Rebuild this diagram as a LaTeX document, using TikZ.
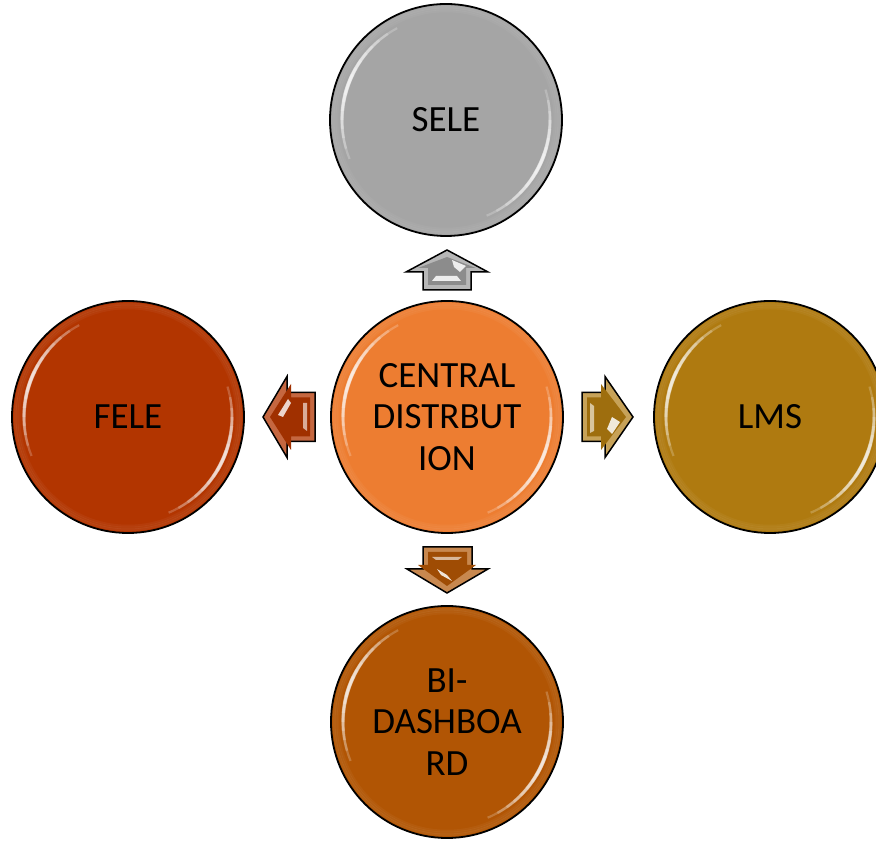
\documentclass[tikz,border=0pt]{standalone}
\usepackage{fontspec}
\setmainfont{Carlito}
\usetikzlibrary{calc}
\begin{document}
\begin{tikzpicture}[x=1pt,y=1pt,
  circ/.style={circle,draw=black,line width=1.8pt,minimum size=232pt,inner sep=0pt,
    align=center,text=black,font=\fontsize{37}{41.5}\selectfont},
  gloss/.style={white,line cap=butt},
  arrowbox/.style={draw=black,line width=1.5pt,line join=miter}]
\definecolor{cgray}{HTML}{A5A5A5}
\definecolor{corange}{HTML}{ED7D31}
\definecolor{cfele}{HTML}{B23500}
\definecolor{clms}{HTML}{AF7A10}
\definecolor{cbi}{HTML}{B15504}
\useasboundingbox (0,0) rectangle (876,843);

\node[circ,fill=cgray] (sele) at (446,723) {SELE};
\node[circ,fill=corange] (cent) at (447,426) {CENTRAL\\DISTRBUT\\ION};
\node[circ,fill=cfele] (fele) at (128,426) {FELE};
\node[circ,fill=clms] (lms) at (770,426) {LMS};
\node[circ,fill=cbi] (bi) at (447,121) {BI-\\DASHBOA\\RD};

% glossy highlights
\foreach \n in {sele,cent,fele,lms,bi}{
  \foreach \r/\o in {113/0.06,111/0.05,109/0.04}{
    \draw[white,opacity=\o,line width=2.5pt] (\n.center) circle[radius=\r];
  }
  \foreach \c in {160,-25}{
    \foreach \h/\w in {42/2.2,36/2.6,30/3,25/3.2,20/3.4,15/3.6,10/3.8,6/4}{
      \draw[gloss,opacity=0.21,line width=\w pt] ($(\n.center)+(\c-\h:104)$) arc[start angle=\c-\h,end angle=\c+\h,radius=104];
    }
  }
}

% block arrows
% up (to SELE)
\draw[arrowbox,fill=cgray!80!white] (447,593) -- (488,571) -- (471,571) -- (471,553) -- (423,553) -- (423,571) -- (406,571) -- cycle;
\fill[cgray!85!black] (447,586) -- (476,575) -- (466,575) -- (466,558) -- (428,558) -- (428,575) -- (418,575) -- cycle;
\fill[white,opacity=0.85] (432,562) -- (461,562) -- (457,567) -- (436,567) -- cycle;
\fill[white,opacity=0.85] (452,583) -- (466,577) -- (460,571) -- (454,576) -- cycle;

% left (to FELE)
\draw[arrowbox,fill=cfele!75!white] (263,426) -- (287,466.5) -- (287,450.5) -- (315,450.5) -- (315,401.5) -- (287,401.5) -- (287,385.5) -- cycle;
\fill[cfele!90!black] (270,426) -- (291,459) -- (291,445.5) -- (310,445.5) -- (310,406.5) -- (291,406.5) -- (291,393) -- cycle;
\fill[white,opacity=0.8] (278,428) -- (288,444) -- (291,440) -- (283,426) -- cycle;
\fill[white,opacity=0.6] (303,440) -- (307,440) -- (307,412) -- (303,415) -- cycle;

% right (to LMS)
\draw[arrowbox,fill=clms!70!white] (633,426) -- (605,466.5) -- (605,450.5) -- (582,450.5) -- (582,401.5) -- (605,401.5) -- (605,385.5) -- cycle;
\fill[clms!90!black] (626,426) -- (601,459) -- (601,445.5) -- (587,445.5) -- (587,406.5) -- (601,406.5) -- (601,393) -- cycle;
\fill[white,opacity=0.6] (590,440) -- (594,437) -- (594,412) -- (590,410) -- cycle;
\fill[white,opacity=0.85] (612,426) -- (620,421) -- (612,409) -- (607,414) -- cycle;

% down (to BI)
\draw[arrowbox,fill=cbi!70!white] (447,250) -- (488,274) -- (472,274) -- (472,296) -- (423,296) -- (423,274) -- (407,274) -- cycle;
\fill[cbi!90!black] (447,257) -- (476,278) -- (467,278) -- (467,291) -- (428,291) -- (428,278) -- (418,278) -- cycle;
\fill[white,opacity=0.6] (432,286) -- (462,286) -- (458,283) -- (436,283) -- cycle;
\fill[white,opacity=0.85] (437,274) -- (447,268) -- (452,262) -- (441,268) -- cycle;
\end{tikzpicture}
\end{document}
